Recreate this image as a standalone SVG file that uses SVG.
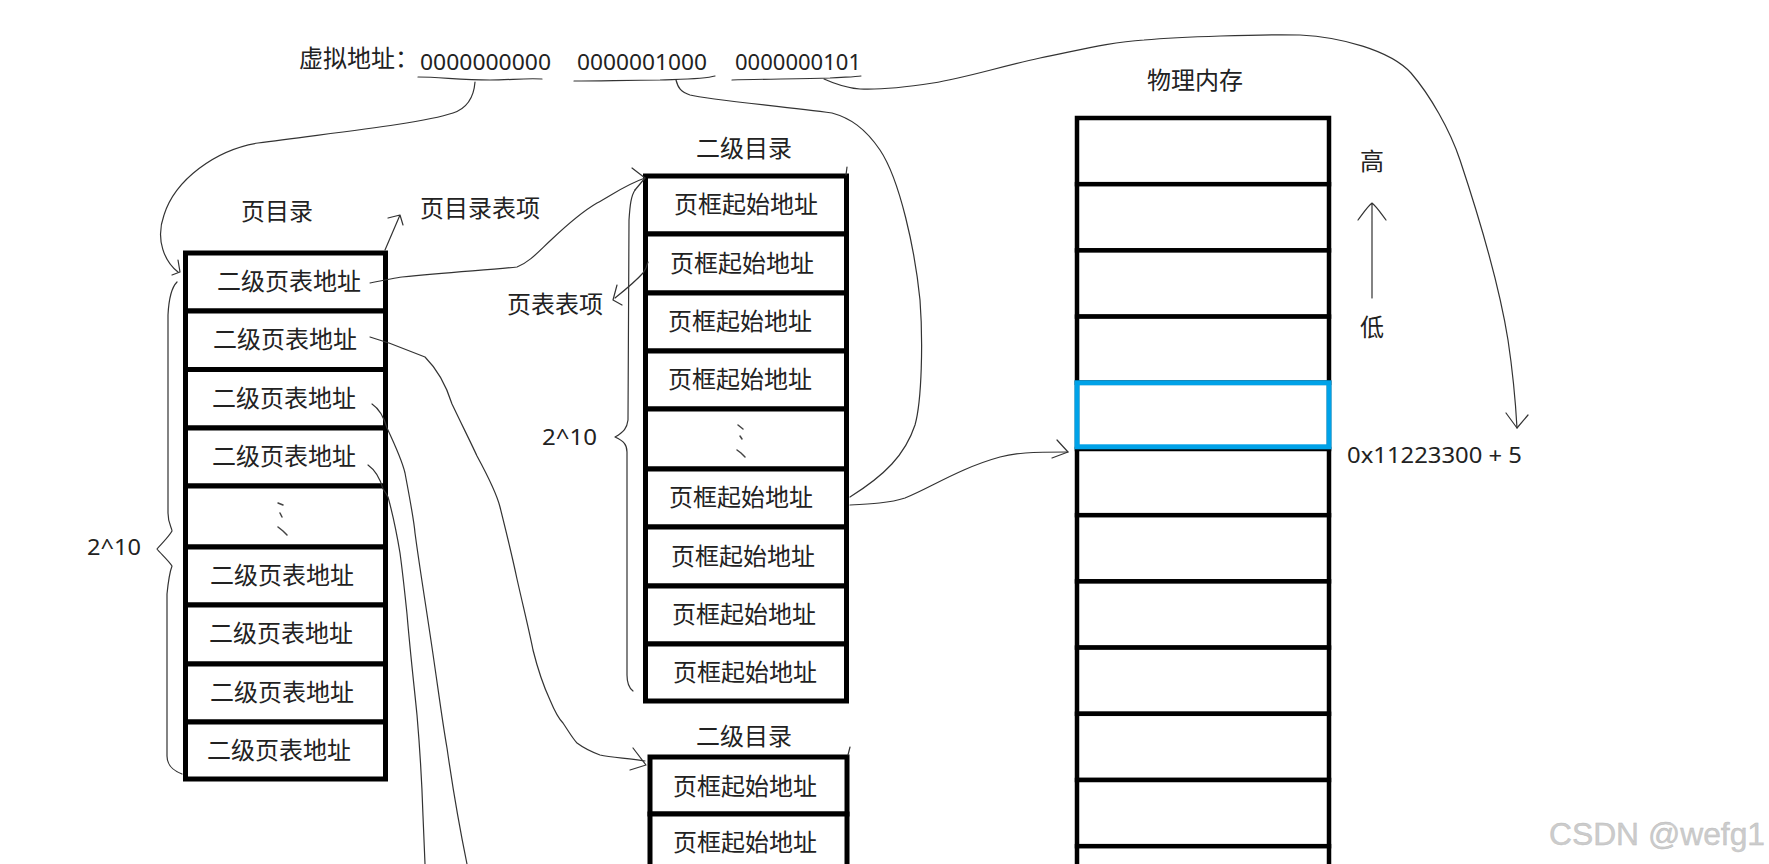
<svg xmlns="http://www.w3.org/2000/svg" width="1769" height="864" viewBox="0 0 1769 864">
<style>
.cell{fill:#fff;stroke:#000;stroke-width:5}
.mem{fill:#fff;stroke:#000;stroke-width:4.5}
.hl{fill:none;stroke:#00A2E8;stroke-width:5}
.t{font-family:"Noto Sans CJK SC",sans-serif;font-size:24px;fill:#222;dominant-baseline:central}
.n{font-family:"Noto Sans","Noto Sans CJK SC",sans-serif;font-size:22px;fill:#222;dominant-baseline:central}
.c{fill:none;stroke:#333;stroke-width:1.2;stroke-linecap:round;stroke-linejoin:round}
.e{fill:none;stroke:#444;stroke-width:1.5;stroke-linecap:round}
.wm{font-family:"Liberation Sans Narrow","Liberation Sans",sans-serif;font-size:32px;fill:#cccccc;stroke:#bbbbbb;stroke-width:0.4;dominant-baseline:central}
</style>
<rect width="1769" height="864" fill="#fff"/>

<g id="virtual-address">
<text class="t" x="299" y="56.5">虚拟地址：</text>
<text class="n" x="420" y="61" textLength="131" lengthAdjust="spacingAndGlyphs">0000000000</text>
<text class="n" x="577" y="61" textLength="130" lengthAdjust="spacingAndGlyphs">0000001000</text>
<text class="n" x="735" y="61" textLength="126" lengthAdjust="spacingAndGlyphs">0000000101</text>
<path class="c" d="M418,77 C440,77 460,80 490,80 C510,80 525,78 542,79"/>
<path class="c" d="M574,81 C600,81 630,80 660,80 C690,79 705,79 715,76"/>
<path class="c" d="M732,80 C760,79 800,79 830,78 C845,77 855,77 861,76"/>
</g>

<g id="page-directory">
<text class="t" x="241" y="209.5">页目录</text>
<text class="t" x="420" y="206.5">页目录表项</text>
<rect class="cell" x="185.5" y="253" width="200" height="58"/>
<rect class="cell" x="185.5" y="311" width="200" height="58.5"/>
<rect class="cell" x="185.5" y="369.5" width="200" height="58.5"/>
<rect class="cell" x="185.5" y="428" width="200" height="58"/>
<rect class="cell" x="185.5" y="486" width="200" height="61"/>
<rect class="cell" x="185.5" y="547" width="200" height="58"/>
<rect class="cell" x="185.5" y="605" width="200" height="59"/>
<rect class="cell" x="185.5" y="664" width="200" height="58"/>
<rect class="cell" x="185.5" y="722" width="200" height="57"/>
<text class="t" x="217" y="279.5">二级页表地址</text>
<text class="t" x="213" y="337.5">二级页表地址</text>
<text class="t" x="212" y="396.5">二级页表地址</text>
<text class="t" x="212" y="454.5">二级页表地址</text>
<path class="e" d="M278,503 L283,505 M280,513 L282,517 M278,527 L283,531 L287,535"/>
<text class="t" x="210" y="573.5">二级页表地址</text>
<text class="t" x="209" y="631.5">二级页表地址</text>
<text class="t" x="210" y="690.5">二级页表地址</text>
<text class="t" x="207" y="748">二级页表地址</text>
<path class="c" d="M177,282 C172,287 169,295 168,315 L168,513 C168,524 172,528 172,531 C168,538 160,545 157,549 C160,553 168,560 172,566 C169,574 168,584 167,594 L167,756 C167,765 172,770 182,774"/>
<text class="n" x="87" y="546" textLength="54" lengthAdjust="spacingAndGlyphs">2^10</text>
</g>

<g id="page-table-1">
<text class="t" x="696" y="146.5">二级目录</text>
<rect class="cell" x="645.5" y="176" width="201" height="58"/>
<rect class="cell" x="645.5" y="234" width="201" height="59"/>
<rect class="cell" x="645.5" y="293" width="201" height="58"/>
<rect class="cell" x="645.5" y="351" width="201" height="58"/>
<rect class="cell" x="645.5" y="409" width="201" height="60"/>
<rect class="cell" x="645.5" y="469" width="201" height="58"/>
<rect class="cell" x="645.5" y="527" width="201" height="59"/>
<rect class="cell" x="645.5" y="586" width="201" height="58"/>
<rect class="cell" x="645.5" y="644" width="201" height="57"/>
<text class="t" x="674" y="202.5">页框起始地址</text>
<text class="t" x="670" y="261.5">页框起始地址</text>
<text class="t" x="668" y="319.5">页框起始地址</text>
<text class="t" x="668" y="377.5">页框起始地址</text>
<path class="e" d="M738,425 L743,429 M740,436 L742,439 M737,450 L741,453 L745,457"/>
<text class="t" x="669" y="495.5">页框起始地址</text>
<text class="t" x="671" y="554.5">页框起始地址</text>
<text class="t" x="672" y="612.5">页框起始地址</text>
<text class="t" x="673" y="670.5">页框起始地址</text>
<text class="t" x="507" y="302.5">页表表项</text>
<path class="c" d="M635,190 C631,196 630,205 629,220 L628,420 C627,428 624,432 615,437 C624,441 627,445 627,452 L627,675 C627,683 629,688 633,691"/>
<text class="n" x="542" y="436" textLength="55" lengthAdjust="spacingAndGlyphs">2^10</text>
</g>

<g id="page-table-2">
<text class="t" x="696" y="734.5">二级目录</text>
<rect class="cell" x="650" y="757" width="197" height="57"/>
<rect class="cell" x="650" y="814" width="197" height="58"/>
<text class="t" x="673" y="784.5">页框起始地址</text>
<text class="t" x="673" y="840.5">页框起始地址</text>
</g>

<g id="physical-memory">
<text class="t" x="1147" y="78.5">物理内存</text>
<rect class="mem" x="1077" y="118" width="252" height="66.2"/>
<rect class="mem" x="1077" y="184.2" width="252" height="66.2"/>
<rect class="mem" x="1077" y="250.4" width="252" height="66.2"/>
<rect class="mem" x="1077" y="316.6" width="252" height="66.2"/>
<rect class="mem" x="1077" y="382.8" width="252" height="66.2"/>
<rect class="mem" x="1077" y="449" width="252" height="66.2"/>
<rect class="mem" x="1077" y="515.2" width="252" height="66.2"/>
<rect class="mem" x="1077" y="581.4" width="252" height="66.2"/>
<rect class="mem" x="1077" y="647.6" width="252" height="66.2"/>
<rect class="mem" x="1077" y="713.8" width="252" height="66.2"/>
<rect class="mem" x="1077" y="780" width="252" height="66.2"/>
<rect class="mem" x="1077" y="846.2" width="252" height="66.2"/>
<rect class="hl" x="1077" y="382.8" width="252" height="64"/>
<text class="t" x="1360" y="159.5">高</text>
<text class="t" x="1360" y="325.5">低</text>
<path class="c" d="M1372,298 L1372,203 M1358,220 C1364,212 1368,206 1372,203 C1376,206 1380,212 1386,220"/>
<text class="n" x="1347" y="454" textLength="175" lengthAdjust="spacingAndGlyphs">0x11223300 + 5</text>
</g>

<g id="connectors">
<path class="c" d="M475,82 C474,95 468,108 453,113 C420,124 330,133 258,143 C215,150 175,180 164,215 C155,240 165,262 178,272"/>
<path class="c" d="M178,260 L180,272 L172,275"/>
<path class="c" d="M385,250 L400,215 M388,218 L400,215 L403,225"/>
<path class="c" d="M370,283 C385,280 395,278 402,277 C450,272 490,270 517,267 C530,262 540,250 551,240 C570,222 585,210 597,203 C612,195 625,185 645,178"/>
<path class="c" d="M632,168 L645,178 L635,190"/>
<path class="c" d="M648,262 L646,268 L643,273 C635,282 625,290 615,298"/>
<path class="c" d="M617,285 L613,300 L622,305"/>
<path class="c" d="M676,80 C678,88 681,92 690,95 C710,100 780,106 832,113 C850,118 865,128 880,150 C900,180 915,250 920,300 C923,340 922,400 915,425 C905,455 885,475 850,497"/>
<path class="c" d="M850,505 C870,504 890,503 905,498 C930,488 960,468 1000,457 C1015,453 1030,452 1068,452"/>
<path class="c" d="M1057,440 L1068,452 L1052,458"/>
<path class="c" d="M824,79 C835,84 845,88 860,89 C880,90 900,88 933,83 C965,78 995,68 1040,58 C1080,50 1110,42 1144,40 C1180,37 1260,34 1300,35 C1340,37 1390,50 1411,73 C1430,95 1450,130 1460,160 C1480,220 1500,290 1508,340 C1514,380 1516,410 1517,428"/>
<path class="c" d="M1506,413 L1517,428 L1528,415"/>
<path class="c" d="M370,337 C380,340 385,342 389,343 L425,357 C440,372 447,388 452,404 C462,425 472,445 477,456 C490,480 497,495 500,507 C507,535 512,555 517,579 C524,610 529,630 533,650 C538,670 543,685 550,700 C555,712 558,718 563,723 C569,732 573,739 577,743 C585,749 592,752 600,755 C612,758 630,758 645,761"/>
<path class="c" d="M633,748 L646,765 L630,770"/>
<path class="c" d="M372,404 C378,408 383,414 387,428 C395,445 402,460 405,473 C410,500 414,520 415,533 C420,570 425,600 430,634 C437,680 442,720 447,748 C453,790 460,830 467,864"/>
<path class="c" d="M368,465 C375,470 380,478 383,489 C386,493 387,495 388,497 C393,515 397,535 400,553 C403,575 405,595 407,614 C410,650 414,685 417,715 C420,750 422,785 423,816 L425,864"/>
<path class="c" d="M847,167 L846,175 M850,747 L848,755"/>
</g>

<text class="wm" x="1549" y="834" textLength="216" lengthAdjust="spacingAndGlyphs">CSDN @wefg1</text>
</svg>
